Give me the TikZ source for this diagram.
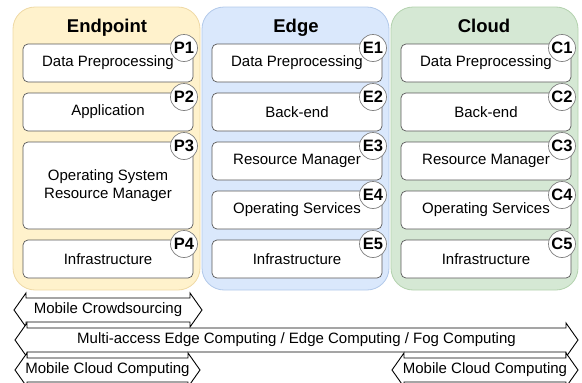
\documentclass[tikz,border=0pt]{standalone}
\usepackage{fontspec}
\setmainfont{Liberation Sans}
\definecolor{endfill}{HTML}{FFF2CC}
\definecolor{endline}{HTML}{EFD9A5}
\definecolor{edgefill}{HTML}{DAE8FC}
\definecolor{edgeline}{HTML}{B2C9EA}
\definecolor{cloudfill}{HTML}{D5E8D4}
\definecolor{cloudline}{HTML}{B3D2AE}

% double-headed band arrow: left x, right x, centre y, text, name
\newcommand{\dualband}[5]{%
  \draw[band] (#1,#3) -- (#1+12,#3-17) -- (#1+12,#3-12) -- (#2-12,#3-12)
    -- (#2-12,#3-17) -- (#2,#3) -- (#2-12,#3+17) -- (#2-12,#3+12)
    -- (#1+12,#3+12) -- (#1+12,#3+17) -- cycle;
  \node[bandtext] (#5) at ({(#1+#2)/2},#3) {#4};}

\begin{document}
\begin{tikzpicture}[x=1pt,y=-1pt,
  panel/.style={rounded corners=22pt, line width=0.8pt},
  layer/.style={draw=black!65, fill=white, rounded corners=5pt, line width=0.7pt,
    minimum width=170pt, inner sep=0pt, align=center,
    font=\fontsize{15}{18}\selectfont},
  tag/.style={circle, draw=black!50, fill=white, minimum size=27pt, inner sep=0pt,
    line width=0.7pt, font=\bfseries\fontsize{16.5}{16.5}\selectfont},
  title/.style={anchor=base, font=\bfseries\fontsize{18.5}{20}\selectfont},
  band/.style={draw=black, fill=white, line width=0.9pt, line join=miter},
  bandtext/.style={inner sep=0pt, font=\fontsize{15}{17}\selectfont}]

\useasboundingbox (0,0) rectangle (582,383);

% tier panels
\draw[panel, fill=endfill, draw=endline] (13,7) rectangle (200,290);
\draw[panel, fill=edgefill, draw=edgeline] (202,7) rectangle (389,290);
\draw[panel, fill=cloudfill, draw=cloudline] (391,7) rectangle (578,290);

\node[title] (tEnd) at (107,32) {Endpoint};
\node[title] (tEdge) at (296,32) {Edge};
\node[title] (tCloud) at (484,32) {Cloud};

% endpoint layers
\node[layer, minimum height=38pt] (p1) at (108,63) {Data Preprocessing};
\node[layer, minimum height=38pt] (p2) at (108,112) {Application};
\node[layer, minimum height=87pt] (p3) at (108,185.5) {Operating System\\Resource Manager};
\node[layer, minimum height=38pt] (p4) at (108,259) {Infrastructure};
\node[tag] (p1t) at (184,48) {P1};
\node[tag] (p2t) at (184,97) {P2};
\node[tag] (p3t) at (184,146) {P3};
\node[tag] (p4t) at (184,244) {P4};

% edge layers
\node[layer, minimum height=38pt] (e1) at (297,63) {Data Preprocessing};
\node[layer, minimum height=38pt] (e2) at (297,112) {Back-end};
\node[layer, minimum height=38pt] (e3) at (297,161) {Resource Manager};
\node[layer, minimum height=38pt] (e4) at (297,210) {Operating Services};
\node[layer, minimum height=38pt] (e5) at (297,259) {Infrastructure};
\node[tag] (e1t) at (373,48) {E1};
\node[tag] (e2t) at (373,97) {E2};
\node[tag] (e3t) at (373,146) {E3};
\node[tag] (e4t) at (373,195) {E4};
\node[tag] (e5t) at (373,244) {E5};

% cloud layers
\node[layer, minimum height=38pt] (c1) at (486,63) {Data Preprocessing};
\node[layer, minimum height=38pt] (c2) at (486,112) {Back-end};
\node[layer, minimum height=38pt] (c3) at (486,161) {Resource Manager};
\node[layer, minimum height=38pt] (c4) at (486,210) {Operating Services};
\node[layer, minimum height=38pt] (c5) at (486,259) {Infrastructure};
\node[tag] (c1t) at (562,48) {C1};
\node[tag] (c2t) at (562,97) {C2};
\node[tag] (c3t) at (562,146) {C3};
\node[tag] (c4t) at (562,195) {C4};
\node[tag] (c5t) at (562,244) {C5};

% computing paradigm spans
\dualband{14}{202}{310}{Mobile Crowdsourcing}{mcs}
\dualband{15}{578}{340}{Multi-access Edge Computing / Edge Computing / Fog Computing}{mec}
\dualband{15}{200}{370}{Mobile Cloud Computing}{mccl}
\dualband{392}{578}{370}{Mobile Cloud Computing}{mccr}
\end{tikzpicture}
\end{document}
